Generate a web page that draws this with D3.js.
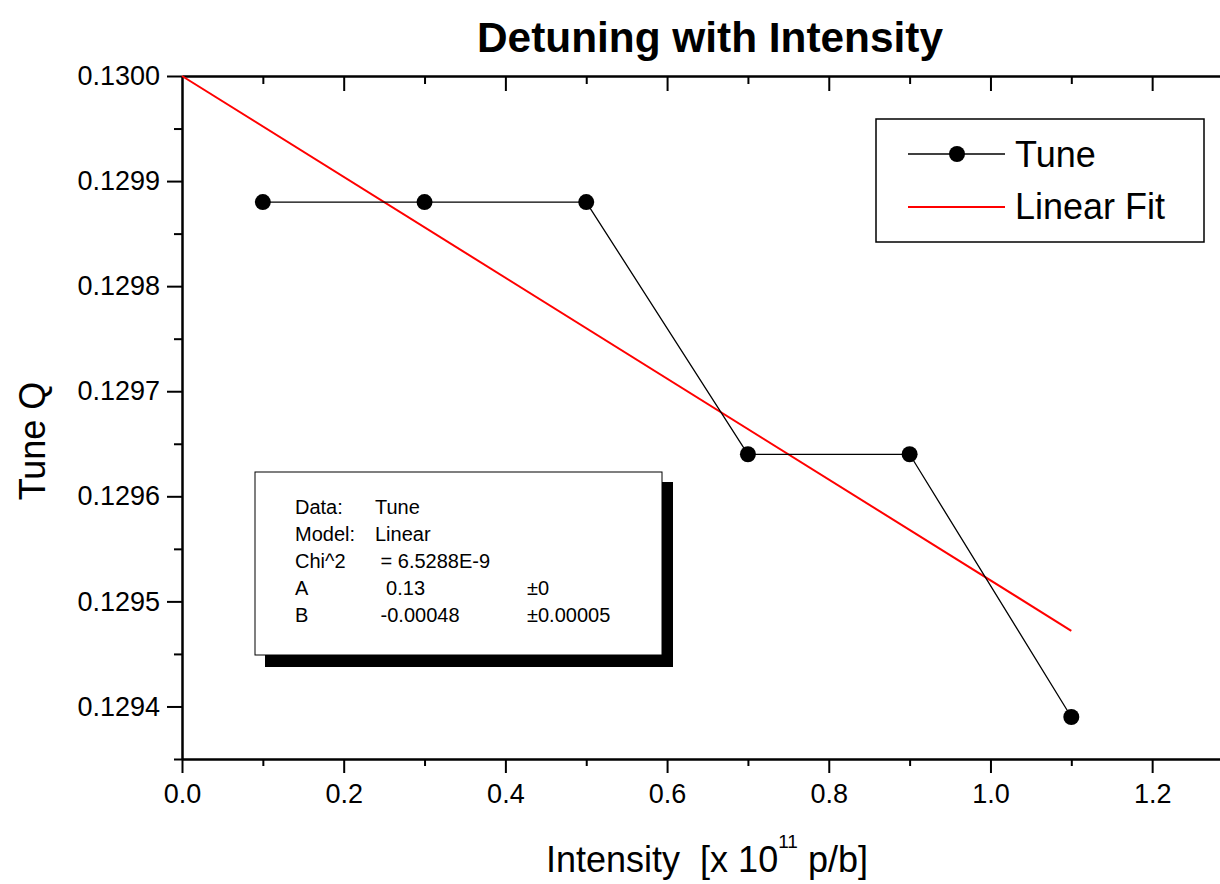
<!DOCTYPE html>
<html>
<head>
<meta charset="utf-8">
<script src="https://cdn.jsdelivr.net/npm/d3@7"></script>
<style>
	body { margin: 0; background: #fff; }
	svg { font-family: "Liberation Sans", Arial, sans-serif; }
	text { white-space: pre; }
</style>
</head>
<body>
<svg id="chart" width="1220" height="884"></svg>
<script>
// data
const intensity = [0.1, 0.3, 0.5, 0.7, 0.9, 1.1];
const tune = [0.12988, 0.12988, 0.12988, 0.12964, 0.12964, 0.12939];
const fitX = [0, 1.1];
const fitY = [0.13, 0.129472];

const xMajor = [0, 0.2, 0.4, 0.6, 0.8, 1.0, 1.2];
const xMinor = [0.1, 0.3, 0.5, 0.7, 0.9, 1.1];
const yMajor = [0.1294, 0.1295, 0.1296, 0.1297, 0.1298, 0.1299, 0.13];
const yMinor = [0.12935, 0.12945, 0.12955, 0.12965, 0.12975, 0.12985, 0.12995];

const statsRows = [
	["Data:", "Tune", ""],
	["Model:", "Linear", ""],
	["Chi^2", " = 6.5288E-9", ""],
	["A", "  0.13", "±0"],
	["B", " -0.00048", "±0.00005"],
];

const svg = d3.select("#chart");

const x = d3.scaleLinear()
	.domain([0, 1.3])
	.range([182, 1233]);

const y = d3.scaleLinear()
	.domain([0.12935, 0.13])
	.range([759, 76]);

const AXIS_W = 2;

function styleAxis(g, fontSize) {
	g.select(".domain").attr("stroke-width", AXIS_W);
	g.selectAll(".tick line").attr("stroke-width", AXIS_W);
	g.selectAll(".tick text")
		.attr("font-size", fontSize)
		.attr("font-family", "Liberation Sans, Arial, sans-serif")
		.attr("fill", "#000");
}

// bottom axis
svg.append("g")
	.attr("transform", `translate(0, ${y.range()[0]})`)
	.call(d3.axisBottom(x).tickValues(xMajor).tickSize(14).tickSizeOuter(0)
		.tickPadding(11).tickFormat(d3.format(".1f")))
	.call(g => styleAxis(g, 27));
svg.append("g")
	.attr("transform", `translate(0, ${y.range()[0]})`)
	.call(d3.axisBottom(x).tickValues(xMinor).tickSize(7).tickSizeOuter(0).tickFormat(""))
	.call(g => styleAxis(g, 27));

// top axis (ticks inward)
svg.append("g")
	.attr("transform", `translate(0, ${y.range()[1]})`)
	.call(d3.axisTop(x).tickValues(xMajor.slice(1)).tickSize(-15).tickSizeOuter(0).tickFormat(""))
	.call(g => styleAxis(g, 27));
svg.append("g")
	.attr("transform", `translate(0, ${y.range()[1]})`)
	.call(d3.axisTop(x).tickValues(xMinor).tickSize(-8).tickSizeOuter(0).tickFormat(""))
	.call(g => styleAxis(g, 27));

// left axis
svg.append("g")
	.attr("transform", `translate(${x(0)}, 0)`)
	.call(d3.axisLeft(y).tickValues(yMajor).tickSize(15).tickSizeOuter(0)
		.tickPadding(7).tickFormat(d3.format(".4f")))
	.call(g => styleAxis(g, 27));
svg.append("g")
	.attr("transform", `translate(${x(0)}, 0)`)
	.call(d3.axisLeft(y).tickValues(yMinor).tickSize(8).tickSizeOuter(0).tickFormat(""))
	.call(g => styleAxis(g, 27));

// linear fit
svg.append("path")
	.datum(fitX.map((d, i) => ({ x: d, y: fitY[i] })))
	.attr("fill", "none")
	.attr("stroke", "#ff0000")
	.attr("stroke-width", 2)
	.attr("d", d3.line().x(d => x(d.x)).y(d => y(d.y)));

// tune data
const pts = intensity.map((d, i) => ({ x: d, y: tune[i] }));
svg.append("path")
	.datum(pts)
	.attr("fill", "none")
	.attr("stroke", "#000")
	.attr("stroke-width", 1.3)
	.attr("d", d3.line().x(d => x(d.x)).y(d => y(d.y)));

svg.selectAll(".pt")
	.data(pts)
	.join("circle")
	.attr("class", "pt")
	.attr("cx", d => x(d.x))
	.attr("cy", d => y(d.y))
	.attr("r", 8)
	.attr("fill", "#000");

// title
svg.append("text")
	.attr("x", 710)
	.attr("y", 52)
	.attr("text-anchor", "middle")
	.attr("font-size", 43)
	.attr("font-weight", "bold")
	.attr("textLength", 466)
	.attr("lengthAdjust", "spacingAndGlyphs")
	.text("Detuning with Intensity");

// y label
svg.append("text")
	.attr("transform", "translate(45, 441) rotate(-90)")
	.attr("text-anchor", "middle")
	.attr("font-size", 36)
	.text("Tune Q");

// x label
const xl = svg.append("text")
	.attr("x", 707)
	.attr("y", 872)
	.attr("text-anchor", "middle")
	.attr("font-size", 36);
xl.append("tspan").text("Intensity  [x 10");
xl.append("tspan").attr("font-size", 19).attr("dy", -24).text("11");
xl.append("tspan").attr("dy", 24).text(" p/b]");

// legend
const legend = svg.append("g");
legend.append("rect")
	.attr("x", 876).attr("y", 119)
	.attr("width", 328).attr("height", 123)
	.attr("fill", "#fff")
	.attr("stroke", "#000")
	.attr("stroke-width", 1.5);
legend.append("line")
	.attr("x1", 908).attr("x2", 1005)
	.attr("y1", 154).attr("y2", 154)
	.attr("stroke", "#000").attr("stroke-width", 1.3);
legend.append("circle")
	.attr("cx", 957).attr("cy", 154).attr("r", 8).attr("fill", "#000");
legend.append("text")
	.attr("x", 1015).attr("y", 167)
	.attr("font-size", 36)
	.text("Tune");
legend.append("line")
	.attr("x1", 908).attr("x2", 1005)
	.attr("y1", 207).attr("y2", 207)
	.attr("stroke", "#ff0000").attr("stroke-width", 2);
legend.append("text")
	.attr("x", 1015).attr("y", 219)
	.attr("font-size", 36)
	.text("Linear Fit");

// fit statistics box
const stats = svg.append("g");
stats.append("rect")
	.attr("x", 265).attr("y", 482)
	.attr("width", 408).attr("height", 185)
	.attr("fill", "#000");
stats.append("rect")
	.attr("x", 255).attr("y", 472)
	.attr("width", 407).attr("height", 183)
	.attr("fill", "#fff")
	.attr("stroke", "#000")
	.attr("stroke-width", 1);

const colX = [295, 375, 527];
statsRows.forEach((row, i) => {
	row.forEach((cell, j) => {
		if (!cell) return;
		stats.append("text")
			.attr("x", colX[j])
			.attr("y", 514 + i * 27)
			.attr("font-size", 20)
			.text(cell);
	});
});
</script>
</body>
</html>
